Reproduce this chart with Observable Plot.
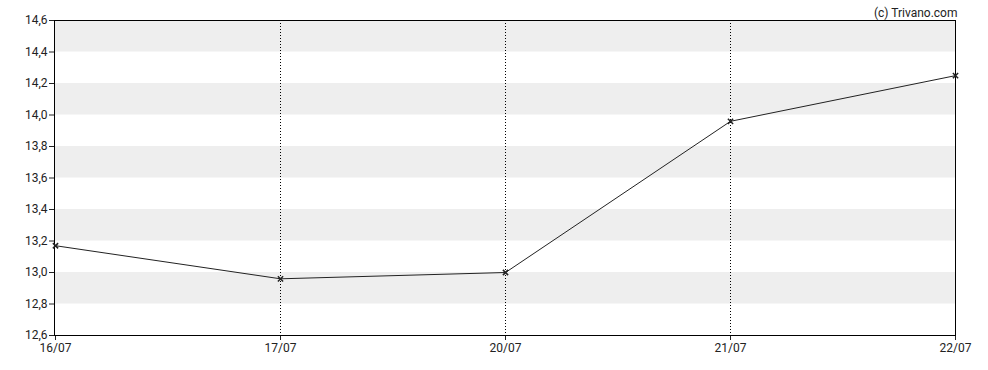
<!DOCTYPE html>
<html>
<head>
<meta charset="utf-8">
<script src="https://cdn.jsdelivr.net/npm/d3@7"></script>
<script src="https://cdn.jsdelivr.net/npm/@observablehq/plot@0.6"></script>
<style>
  html, body { margin: 0; padding: 0; background: #fff; }
  #chart svg { display: block; }
</style>
</head>
<body>
<div id="chart"></div>
<script>
const dates = ["16/07", "17/07", "20/07", "21/07", "22/07"];
const prices = [13.17, 12.96, 13.00, 13.96, 14.25];
const yTicks = [12.6, 12.8, 13.0, 13.2, 13.4, 13.6, 13.8, 14.0, 14.2, 14.4, 14.6];
const bandLows = [12.8, 13.2, 13.6, 14.0, 14.4];
const bandHighs = [13.0, 13.4, 13.8, 14.2, 14.6];
const gridDates = ["17/07", "20/07", "21/07"];
const credit = "(c) Trivano.com";

const data = dates.map((d, i) => ({date: d, price: prices[i]}));
const bands = bandLows.map((lo, i) => ({lo, hi: bandHighs[i]}));
const fmt = d => d.toFixed(1).replace(".", ",");

const chart = Plot.plot({
  width: 988,
  height: 370,
  marginLeft: 54,
  marginRight: 33,
  marginTop: 20,
  marginBottom: 35,
  style: {fontFamily: "Roboto, sans-serif", fontSize: "12px", color: "#222", background: "#fff", overflow: "visible"},
  x: {type: "point", domain: dates, padding: 0, label: null, tickSize: 5, tickPadding: 3},
  y: {domain: [12.6, 14.6], ticks: yTicks, tickFormat: fmt, label: null, tickSize: 5, tickPadding: 2},
  marks: [
    Plot.rect(bands, {y1: "lo", y2: "hi", fill: "#eeeeee"}),
    Plot.ruleX(gridDates, {stroke: "#000", strokeDasharray: "1,2", strokeWidth: 1}),
    Plot.frame({stroke: "#000", strokeWidth: 1}),
    Plot.line(data, {x: "date", y: "price", stroke: "#222", strokeWidth: 1}),
    Plot.dot(data, {x: "date", y: "price", symbol: "times", r: 2.5, stroke: "#222", strokeWidth: 1.5}),
    Plot.text([credit], {text: d => d, frameAnchor: "top-right", dy: -12, dx: 2, fill: "#222", fontSize: 12})
  ]
});
document.getElementById("chart").appendChild(chart);
</script>
</body>
</html>
